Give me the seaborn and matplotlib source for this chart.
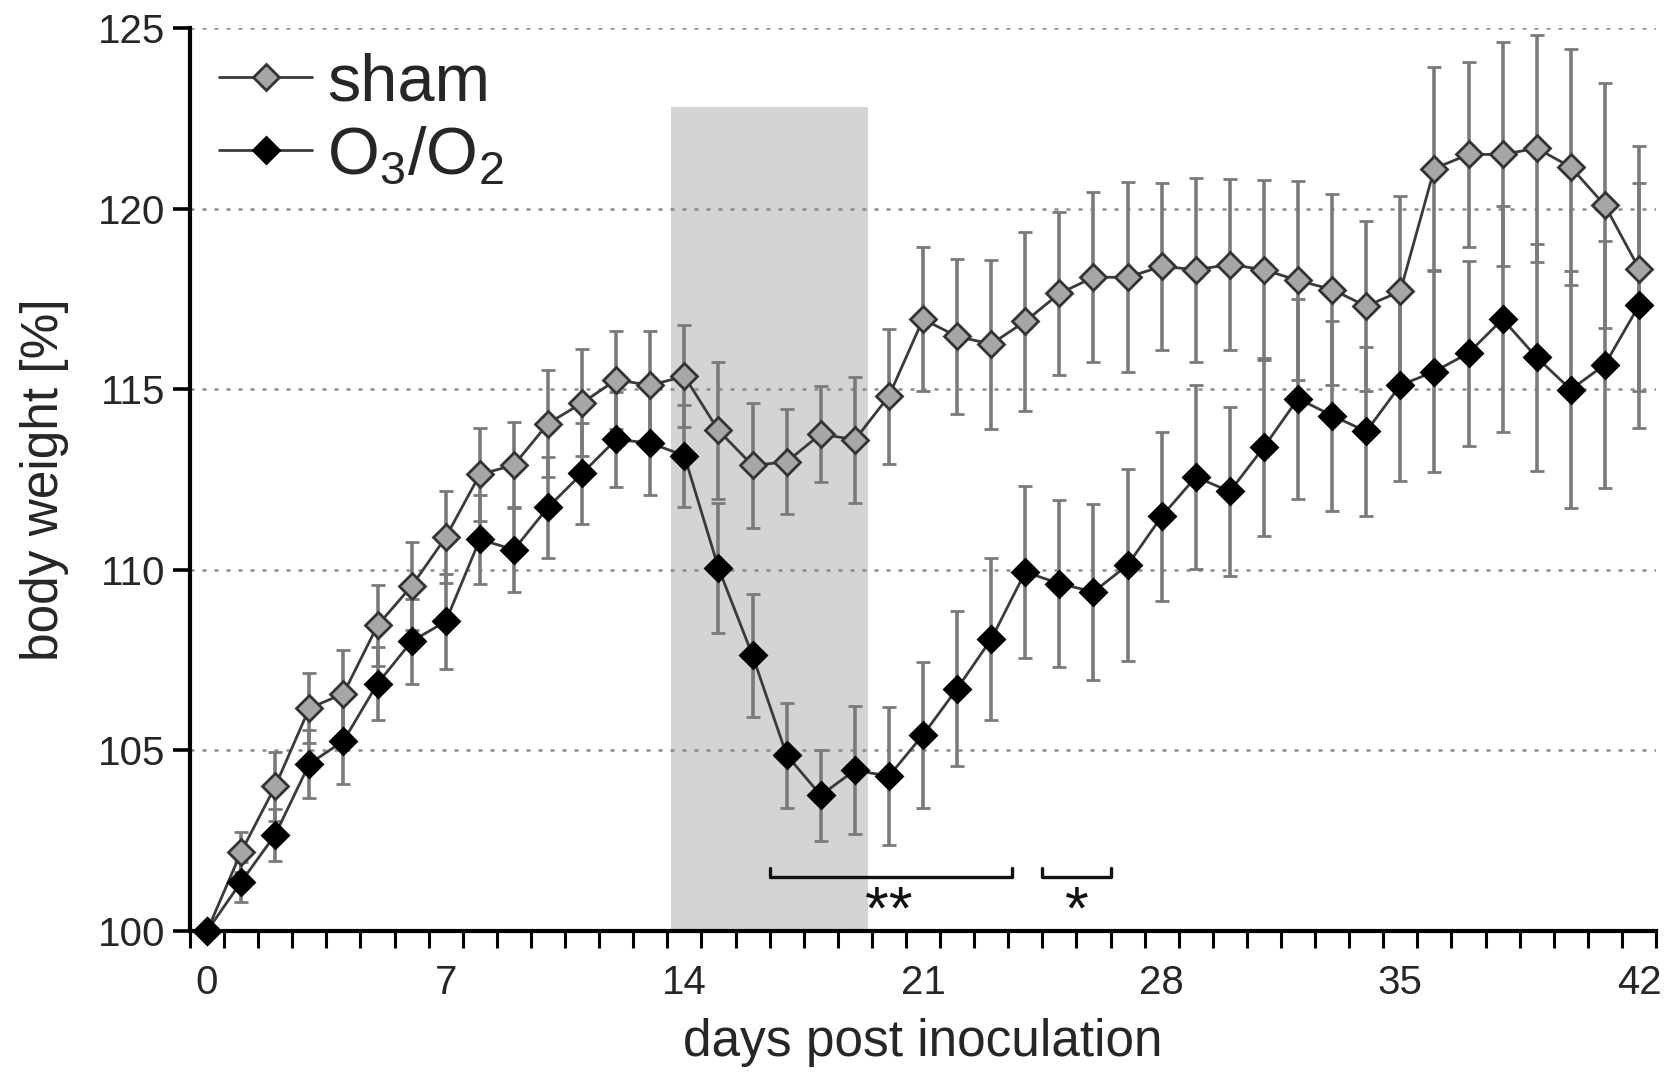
import numpy as np
import pandas as pd
import matplotlib
matplotlib.use("Agg")
import matplotlib.pyplot as plt
import seaborn as sns

days = list(range(43))
sham = [100.0, 102.19, 104.01, 106.17, 106.57, 108.46, 109.55, 110.9, 112.64, 112.9,
        114.05, 114.62, 115.26, 115.11, 115.36, 113.86, 112.89, 112.99, 113.76, 113.6,
        114.81, 116.94, 116.46, 116.25, 116.88, 117.65, 118.1, 118.1, 118.4, 118.31,
        118.45, 118.31, 118.01, 117.76, 117.3, 117.71, 121.11, 121.5, 121.5, 121.67,
        121.15, 120.09, 118.34]
sham_err = [0.0, 0.55, 0.95, 0.97, 1.2, 1.12, 1.22, 1.27, 1.28, 1.2,
            1.48, 1.48, 1.36, 1.5, 1.41, 1.9, 1.72, 1.45, 1.32, 1.75,
            1.87, 2.0, 2.14, 2.34, 2.47, 2.25, 2.35, 2.63, 2.32, 2.55,
            2.36, 2.49, 2.75, 2.65, 2.35, 2.64, 2.8, 2.57, 3.1, 3.15,
            3.27, 3.4, 3.4]
ozone = [100.0, 101.36, 102.67, 104.63, 105.26, 106.85, 108.02, 108.57, 110.84, 110.56,
         111.73, 112.67, 113.61, 113.51, 113.16, 110.05, 107.63, 104.87, 103.76, 104.45,
         104.29, 105.43, 106.71, 108.08, 109.94, 109.62, 109.39, 110.13, 111.48, 112.57,
         112.17, 113.4, 114.74, 114.27, 113.83, 115.11, 115.49, 116.0, 116.94, 115.88,
         114.99, 115.68, 117.32]
ozone_err = [0.0, 0.55, 0.72, 0.94, 1.18, 1.02, 1.18, 1.31, 1.23, 1.18,
             1.4, 1.39, 1.31, 1.44, 1.41, 1.8, 1.7, 1.45, 1.26, 1.77,
             1.91, 2.02, 2.15, 2.25, 2.37, 2.3, 2.44, 2.66, 2.33, 2.55,
             2.35, 2.46, 2.77, 2.63, 2.34, 2.64, 2.79, 2.56, 3.12, 3.15,
             3.28, 3.42, 3.4]

group_labels = ["sham", r"O$_3$/O$_2$"]
x_ticklabels = ["0", "7", "14", "21", "28", "35", "42"]
y_ticks = [100, 105, 110, 115, 120, 125]

shade_days = (13.6, 19.4)
shade_top = 122.8
brackets = [(16.5, 23.6, "**", 20.0), (24.5, 26.5, "*", 25.5)]

sns.set_theme(style="ticks")
plt.rcParams['font.family'] = ['Liberation Sans', 'DejaVu Sans']
plt.rcParams['mathtext.fontset'] = 'custom'
plt.rcParams['mathtext.rm'] = 'Liberation Sans'
plt.rcParams['mathtext.it'] = 'Liberation Sans'

df = pd.DataFrame({
    "day": days * 2,
    "weight": sham + ozone,
    "err": sham_err + ozone_err,
    "group": [group_labels[0]] * len(days) + [group_labels[1]] * len(days),
})

fig = plt.figure(figsize=(16.77, 10.73), dpi=100)
ax = fig.add_axes([0.1133, 0.1323, 0.8742, 0.8416])

# shaded treatment period
ax.fill_between(list(shade_days), 100, shade_top, color="#d4d4d4", zorder=0, linewidth=0)

# grid
for yv in y_ticks[1:]:
    ax.axhline(yv, color="#8c8c8c", linestyle=(0, (1.6, 3.2)), linewidth=1.8, zorder=0.5)

styles = {
    group_labels[0]: dict(mfc="#a6a6a6", mec="#333333"),
    group_labels[1]: dict(mfc="#000000", mec="#000000"),
}
for g in group_labels:
    sub = df[df["group"] == g]
    ax.errorbar(sub["day"], sub["weight"], yerr=sub["err"], fmt="none",
                ecolor="#7a7a7a", elinewidth=2.6, capsize=5, capthick=2.0, zorder=2)
for g in group_labels:
    sub = df[df["group"] == g]
    sns.lineplot(data=sub, x="day", y="weight", ax=ax, color="#3a3a3a", linewidth=2.0,
                 marker="D", markersize=13, markerfacecolor=styles[g]["mfc"],
                 markeredgecolor=styles[g]["mec"], markeredgewidth=2.0,
                 label=g, zorder=3, clip_on=False, errorbar=None)

# significance brackets
for x0, x1, txt, xs in brackets:
    ax.plot([x0, x0, x1, x1], [101.75, 101.5, 101.5, 101.75], color="#111111",
            linewidth=2.4, zorder=3)
    ax.text(xs, 100.08, txt, ha="center", va="baseline", fontsize=44, color="#111111")

ax.set_xlim(-0.5, 42.5)
ax.set_ylim(100, 125)

ax.set_xticks(np.arange(-0.5, 43, 1))
ax.set_xticklabels([])
ax.set_xticks([0, 7, 14, 21, 28, 35, 42], minor=True)
ax.set_xticklabels(x_ticklabels, minor=True)
ax.tick_params(axis="x", which="major", length=12, width=2.2, color="black", direction="out")
ax.tick_params(axis="x", which="minor", length=0, pad=24, labelsize=29)

ax.set_yticks(y_ticks)
ax.set_yticklabels([str(v) for v in y_ticks])
ax.tick_params(axis="y", length=12, width=2.6, color="black", pad=6, labelsize=29)

for side in ["top", "right"]:
    ax.spines[side].set_visible(False)
ax.spines["left"].set_linewidth(3.0)
ax.spines["bottom"].set_linewidth(3.0)
ax.spines["left"].set_color("black")
ax.spines["bottom"].set_color("black")

ax.set_xlabel("days post inoculation", fontsize=37, va="center")
ax.set_ylabel("body weight [%]", fontsize=37, va="center")
ax.xaxis.set_label_coords(0.5, -0.123)
ax.yaxis.set_label_coords(-0.099, 0.5)

leg = ax.legend(loc="upper left", bbox_to_anchor=(-0.012, 1.025), frameon=False,
                fontsize=48, handlelength=1.4, handletextpad=0.22, labelspacing=0.17,
                borderaxespad=0.3)

fig.savefig("out.png", dpi=100)
